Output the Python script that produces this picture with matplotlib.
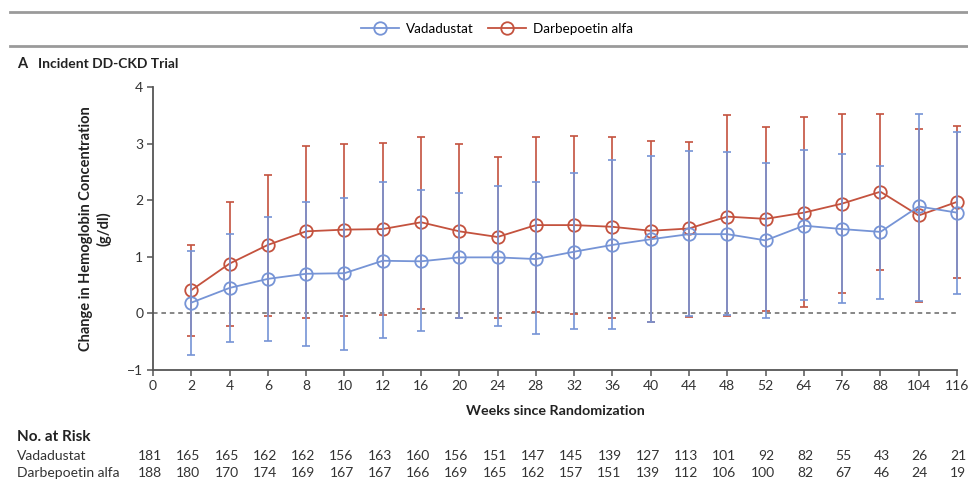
import matplotlib
matplotlib.use("Agg")
import matplotlib.pyplot as plt
from matplotlib.transforms import blended_transform_factory
from matplotlib.lines import Line2D

plt.rcParams['font.family'] = ['Lato', 'DejaVu Sans']

# x axis is categorical (weeks)
weeks = ['0', '2', '4', '6', '8', '10', '12', '16', '20', '24', '28', '32', '36',
         '40', '44', '48', '52', '64', '76', '88', '104', '116']

vada_mean = [0.19, 0.45, 0.61, 0.70, 0.71, 0.93, 0.92, 0.99, 0.99, 0.96, 1.09,
             1.21, 1.31, 1.40, 1.40, 1.29, 1.55, 1.49, 1.44, 1.89, 1.78]
vada_hi = [1.10, 1.40, 1.71, 1.96, 2.04, 2.32, 2.18, 2.12, 2.25, 2.32, 2.48,
           2.71, 2.78, 2.87, 2.86, 2.66, 2.89, 2.81, 2.61, 3.53, 3.21]
vada_lo = [-0.74, -0.50, -0.48, -0.57, -0.64, -0.44, -0.31, -0.09, -0.23, -0.36, -0.28,
           -0.27, -0.15, -0.04, -0.02, -0.08, 0.24, 0.18, 0.26, 0.22, 0.35]

darb_mean = [0.41, 0.88, 1.21, 1.45, 1.48, 1.49, 1.61, 1.45, 1.35, 1.56, 1.56,
             1.53, 1.46, 1.50, 1.71, 1.67, 1.78, 1.94, 2.15, 1.73, 1.97]
darb_hi = [1.21, 1.97, 2.44, 2.96, 3.00, 3.01, 3.12, 3.00, 2.76, 3.11, 3.14,
           3.12, 3.05, 3.02, 3.50, 3.29, 3.47, 3.52, 3.53, 3.25, 3.31]
darb_lo = [-0.40, -0.22, -0.05, -0.08, -0.05, -0.02, 0.08, -0.08, -0.08, 0.02, -0.01,
           -0.08, -0.16, -0.06, -0.04, 0.05, 0.11, 0.36, 0.76, 0.21, 0.63]

vada_risk = [181, 165, 165, 162, 162, 156, 163, 160, 156, 151, 147, 145, 139, 127,
             113, 101, 92, 82, 55, 43, 26, 21]
darb_risk = [188, 180, 170, 174, 169, 167, 167, 166, 169, 165, 162, 157, 151, 139,
             112, 106, 100, 82, 67, 46, 24, 19]

BLUE = '#7694d6'
RED = '#c4523e'
GRAY = '#555555'

W, H = 968, 482
fig = plt.figure(figsize=(W / 100, H / 100), dpi=100)

x0_px, x116_px = 153, 957
xmax = 21.25
ax_w = (x116_px - x0_px) * xmax / 21
ax = fig.add_axes([x0_px / W, (H - 370) / H, ax_w / W, (370 - 87) / H])

pos = list(range(1, len(weeks)))

def series(mean, lo, hi, color, z):
    err = [[m - l for m, l in zip(mean, lo)], [h - m for m, h in zip(mean, hi)]]
    ax.errorbar(pos, mean, yerr=err, fmt='none', ecolor=color, elinewidth=1.2,
                capsize=3.2, capthick=1.2, zorder=z)
    ax.plot(pos, mean, color=color, lw=1.3, marker='o', ms=9, mfc='none',
            mec=color, mew=1.3, zorder=z + 0.5)

ax.axhline(0, xmin=0, xmax=21 / xmax, color='#666666', lw=1.1, ls=(0, (3, 2.5)), zorder=1)
series(darb_mean, darb_lo, darb_hi, RED, 2)
series(vada_mean, vada_lo, vada_hi, BLUE, 3)

ax.set_xlim(0, xmax)
ax.set_ylim(-1, 4)
ax.set_xticks(range(len(weeks)))
ax.set_xticklabels(weeks)
ax.set_yticks([-1, 0, 1, 2, 3, 4])
ax.set_yticklabels(['\u22121', '0', '1', '2', '3', '4'])
for s in ['top', 'right']:
    ax.spines[s].set_visible(False)
ax.spines['bottom'].set_bounds(0, 21)
for s in ['left', 'bottom']:
    ax.spines[s].set_color(GRAY)
    ax.spines[s].set_linewidth(1.3)
ax.tick_params(colors=GRAY, labelcolor='#333333', labelsize=10, width=1.1, length=4, pad=3)

fig.text(95 / W, 1 - 229 / H, 'Change in Hemoglobin Concentration\n(g/dl)',
         rotation=90, ha='center', va='center', fontsize=10.5, fontweight='bold',
         color='#222222', linespacing=1.25)
fig.text(555 / W, 1 - 411 / H, 'Weeks since Randomization', ha='center', va='center',
         fontsize=10.3, fontweight='bold', color='#222222')

# header
fig.add_artist(Line2D([10 / W, 1], [1 - 12 / H] * 2, color='#9a9a9a', lw=2))
fig.add_artist(Line2D([10 / W, 1], [1 - 46 / H] * 2, color='#9a9a9a', lw=2))
handles = [Line2D([], [], color=BLUE, lw=1.3, marker='o', ms=9, mfc='none', mew=1.3),
           Line2D([], [], color=RED, lw=1.3, marker='o', ms=9, mfc='none', mew=1.3)]
fig.legend(handles, ['Vadadustat', 'Darbepoetin alfa'], loc='center',
           bbox_to_anchor=(497 / W, 1 - 29 / H), ncol=2, frameon=False,
           fontsize=9.7, handlelength=2.8, handletextpad=0.5, columnspacing=1.1)

fig.text(17 / W, 1 - 64 / H, 'A', fontsize=10.5, fontweight='bold', va='center', color='#222222')
fig.text(38 / W, 1 - 64 / H, 'Incident DD-CKD Trial', fontsize=10, fontweight='bold',
         va='center', color='#222222')

# number at risk
fig.text(17 / W, 1 - 437 / H, 'No. at Risk', fontsize=11, fontweight='bold', va='center',
         color='#222222')
tr = blended_transform_factory(ax.transData, fig.transFigure)
for y_px, name, vals in [(456, 'Vadadustat', vada_risk), (473, 'Darbepoetin alfa', darb_risk)]:
    fig.text(17 / W, 1 - y_px / H, name, fontsize=10, va='center', color='#333333')
    for i, v in enumerate(vals):
        ax.text(i + 0.24, 1 - y_px / H, str(v), transform=tr, ha='right', va='center',
                fontsize=10, color='#333333', clip_on=False)

fig.savefig('out.png', dpi=100)
